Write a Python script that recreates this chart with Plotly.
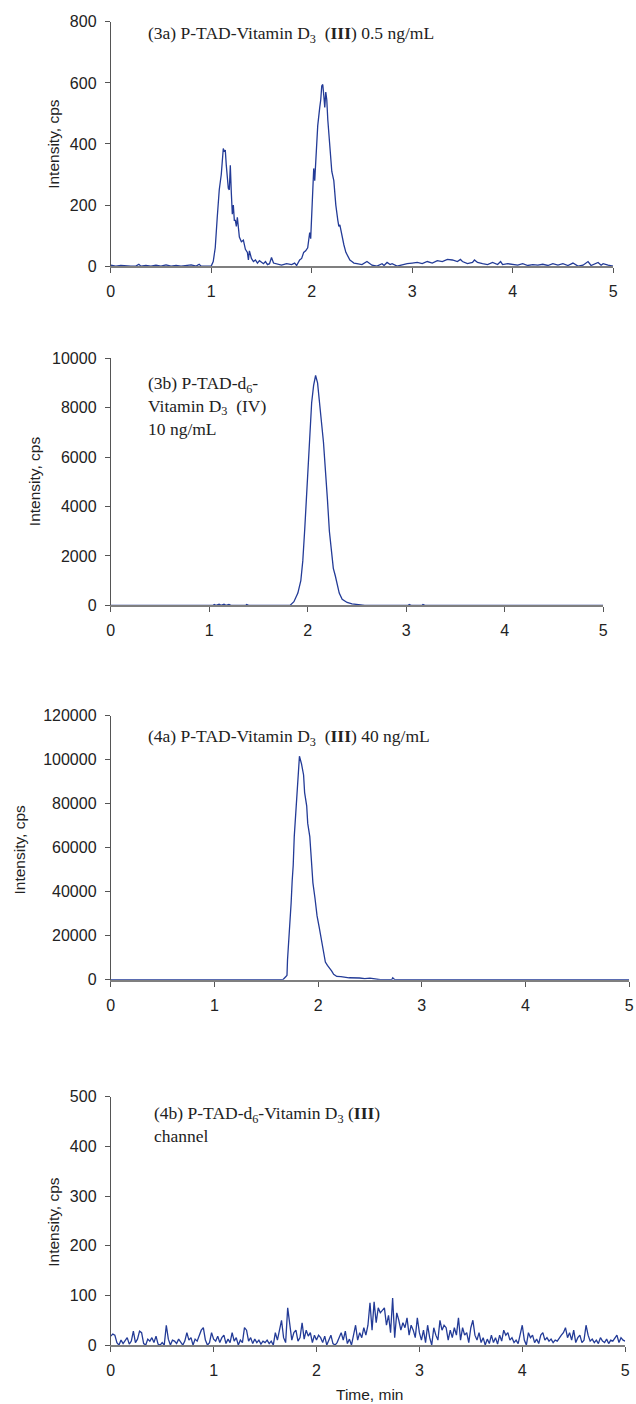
import plotly.graph_objects as go

# ---------------- data ----------------
# Panel 3a: P-TAD-Vitamin D3 (III) 0.5 ng/mL
t_3a = [0.00, 0.05, 0.10, 0.15, 0.20, 0.25, 0.28, 0.30, 0.35, 0.40, 0.45, 0.50, 0.55, 0.60, 0.65,
        0.70, 0.75, 0.80, 0.85, 0.88, 0.90, 0.95, 1.00, 1.02, 1.04, 1.06, 1.08, 1.10, 1.12, 1.13,
        1.14, 1.15, 1.16, 1.17, 1.18, 1.19, 1.20, 1.21, 1.22, 1.23, 1.24, 1.25, 1.26, 1.27, 1.28,
        1.30, 1.32, 1.34, 1.36, 1.37, 1.38, 1.40, 1.42, 1.44, 1.46, 1.48, 1.50, 1.52, 1.54, 1.56,
        1.58, 1.60, 1.62, 1.65, 1.70, 1.75, 1.80, 1.83, 1.85, 1.88, 1.90, 1.92, 1.94, 1.96, 1.98,
        1.99, 2.00, 2.02, 2.03, 2.04, 2.06, 2.08, 2.09, 2.10, 2.11, 2.12, 2.13, 2.14, 2.15, 2.16,
        2.18, 2.20, 2.22, 2.24, 2.26, 2.27, 2.28, 2.30, 2.32, 2.34, 2.36, 2.38, 2.40, 2.42, 2.45,
        2.50, 2.55, 2.58, 2.60, 2.65, 2.70, 2.72, 2.75, 2.78, 2.80, 2.85, 2.90, 2.95, 3.00, 3.05,
        3.10, 3.15, 3.20, 3.25, 3.30, 3.35, 3.40, 3.45, 3.48, 3.50, 3.55, 3.60, 3.62, 3.65, 3.70,
        3.75, 3.80, 3.85, 3.88, 3.90, 3.95, 4.00, 4.05, 4.10, 4.15, 4.20, 4.25, 4.30, 4.35, 4.40,
        4.45, 4.50, 4.55, 4.60, 4.65, 4.70, 4.75, 4.78, 4.80, 4.85, 4.88, 4.90, 4.95, 5.00]
v_3a = [3, 0, 2, 0, 0, 0, 6, 0, 2, 0, 3, 0, 4, 0, 2,
        0, 3, 4, 0, 6, 0, 0, 0, 15, 60, 160, 250, 300, 385, 375,
        380, 330, 300, 255, 250, 330, 240, 170, 200, 150, 150, 130, 160, 120, 95,
        80, 85, 55, 45, 20, 50, 25, 15, 20, 10, 18, 12, 8, 15, 5,
        8, 28, 10, 8, 3, 8, 5, 10, 2, 20, 25, 45, 50, 60, 110,
        90, 170, 320, 280, 330, 460, 520, 545, 590, 595, 560, 520, 570, 545, 480,
        400, 310, 280, 200, 150, 130, 135, 95, 70, 45, 30, 20, 15, 10, 8,
        5, 15, 8, 3, 0, 8, 2, 12, 5, 8, 0, 5, 8, 10, 12,
        8, 15, 10, 18, 15, 22, 20, 15, 22, 15, 8, 12, 20, 12, 8,
        5, 12, 5, 15, 5, 8, 5, 3, 8, 2, 5, 3, 6, 2, 8,
        3, 8, 2, 10, 0, 3, 15, 2, 5, 12, 3, 8, 3, 0]

# Panel 3b: P-TAD-d6-Vitamin D3 (IV) 10 ng/mL
t_3b = [0.00, 1.04, 1.05, 1.07, 1.10, 1.12, 1.15, 1.17, 1.20, 1.22, 1.37, 1.38, 1.40, 1.82, 1.86,
        1.90, 1.93, 1.95, 1.97, 1.99, 2.00, 2.02, 2.04, 2.06, 2.08, 2.10, 2.12, 2.14, 2.16, 2.18,
        2.20, 2.22, 2.24, 2.26, 2.28, 2.30, 2.32, 2.35, 2.40, 2.45, 2.50, 2.55, 2.58, 3.02, 3.03,
        3.05, 3.16, 3.17, 3.19, 5.00]
v_3b = [0, 0, 40, 0, 50, 0, 50, 0, 40, 0, 0, 40, 0, 0, 150,
        500, 1000, 1800, 3100, 4500, 5500, 7000, 8200, 8900, 9300, 9000, 8300, 7400, 6600, 5200,
        4300, 3000, 2200, 1500, 1200, 800, 500, 250, 120, 60, 40, 20, 0, 0, 40,
        0, 0, 40, 0, 0]

# Panel 4a: P-TAD-Vitamin D3 (III) 40 ng/mL
t_4a = [0.00, 1.66, 1.69, 1.70, 1.705, 1.72, 1.73, 1.74, 1.75, 1.76, 1.77, 1.78, 1.79, 1.80, 1.81,
        1.82, 1.84, 1.86, 1.87, 1.89, 1.90, 1.92, 1.93, 1.95, 1.97, 1.99, 2.01, 2.03, 2.05, 2.07,
        2.09, 2.11, 2.13, 2.15, 2.18, 2.22, 2.26, 2.30, 2.40, 2.45, 2.50, 2.55, 2.60, 2.71, 2.72,
        2.74, 5.00]
v_4a = [0, 0, 1500, 2000, 9000, 20000, 25000, 35000, 45000, 52000, 65000, 72000, 80000, 85000, 90000,
        101500, 98000, 93000, 85000, 79000, 71000, 65000, 58000, 44000, 37000, 29000, 24000, 19000, 14000, 8000,
        6500, 5500, 4000, 2500, 1500, 1400, 1000, 900, 800, 500, 700, 300, 0, 0, 900,
        0, 0]

# Panel 4b: P-TAD-d6-Vitamin D3 (III) channel, sampled every 0.02 min
dt_4b = 0.02
v_4b = [18, 22, 20, 5, 0, 10, 3, 8, 15, 2, 8, 28, 5, 12, 28, 25, 3, 0, 12, 8, 15, 5, 18, 2, 0,
        5, 0, 40, 12, 0, 10, 8, 3, 12, 5, 0, 8, 25, 10, 15, 0, 12, 8, 20, 30, 35, 10, 0, 5, 25,
        12, 8, 18, 5, 15, 20, 3, 12, 5, 25, 8, 15, 0, 10, 5, 35, 30, 8, 15, 3, 12, 5, 10, 2, 8,
        5, 10, 3, 8, 0, 25, 10, 30, 50, 15, 5, 75, 40, 10, 25, 30, 8, 15, 45, 12, 30, 18, 25, 5, 20,
        10, 20, 15, 5, 18, 0, 10, 20, 3, 0, 5, 15, 25, 10, 28, 3, 12, 0, 20, 40, 10, 25, 15, 35, 20,
        40, 85, 30, 87, 45, 75, 65, 70, 75, 40, 60, 25, 95, 15, 65, 50, 30, 45, 35, 55, 20, 40, 30, 15, 55,
        25, 10, 30, 5, 40, 15, 0, 35, 20, 10, 50, 30, 40, 35, 10, 30, 15, 35, 20, 55, 10, 35, 20, 25, 5,
        35, 50, 20, 10, 25, 5, 15, 0, 12, 3, 20, 5, 15, 2, 20, 8, 30, 20, 25, 10, 15, 5, 10, 3, 25,
        40, 10, 0, 25, 15, 20, 5, 12, 3, 20, 25, 10, 15, 8, 12, 5, 10, 8, 15, 20, 25, 35, 15, 25, 10,
        30, 5, 15, 20, 5, 10, 40, 20, 8, 12, 5, 10, 3, 15, 8, 5, 12, 3, 10, 8, 15, 20, 5, 15, 10,
        8]
t_4b = [round(i * dt_4b, 2) for i in range(len(v_4b))]

x_ticks = [0, 1, 2, 3, 4, 5]
y_ranges = [[0, 800], [0, 10000], [0, 120000], [0, 500]]
y_dticks = [200, 2000, 20000, 100]

titles = [
    "(3a) P-TAD-Vitamin D<sub>3</sub>  (<b>III</b>) 0.5 ng/mL",
    "(3b) P-TAD-d<sub>6</sub>-<br>Vitamin D<sub>3</sub>  (IV)<br>10 ng/mL",
    "(4a) P-TAD-Vitamin D<sub>3</sub>  (<b>III</b>) 40 ng/mL",
    "(4b) P-TAD-d<sub>6</sub>-Vitamin D<sub>3</sub> (<b>III</b>)<br>channel",
]
y_title = "Intensity, cps"
x_title = "Time, min"

# ---------------- layout geometry (pixels) ----------------
W, H = 636, 1404
S = 0.987  # layout spread factor about the page centre
# (left px, right px, top px, bottom px)
boxes = [(111, 614, 23, 267), (111, 604, 359, 606), (111, 630, 716, 980), (111, 626, 1097, 1345)]
ytitle_pos = [(54, 145), (34, 482), (20, 850), (54, 1222)]
ann_pos = [(146, 36, "middle"), (146, 372, "top"), (146, 738, "middle"), (152, 1101, "top")]

def px(x):
    return ((x - W / 2) / S + W / 2) / W

def py(y):
    return 1 - ((y - H / 2) / S + H / 2) / H

LINE = "#233b97"
fig = go.Figure()
series = [(t_3a, v_3a), (t_3b, v_3b), (t_4a, v_4a), (t_4b, v_4b)]
for i, (t, v) in enumerate(series):
    sfx = "" if i == 0 else str(i + 1)
    fig.add_trace(go.Scatter(x=t, y=v, mode="lines", line=dict(color=LINE, width=1.3),
                             xaxis="x" + sfx, yaxis="y" + sfx, showlegend=False))

tickfont = dict(family="Liberation Sans, Arial", size=16, color="#222")
layout = dict(width=W, height=H, margin=dict(l=0, r=0, t=0, b=0),
              paper_bgcolor="white", plot_bgcolor="white", showlegend=False)
for i, (l, r, t, b) in enumerate(boxes):
    sfx = "" if i == 0 else str(i + 1)
    layout["xaxis" + sfx] = dict(
        domain=[px(l), px(r)], range=[0, 5], anchor="y" + sfx,
        tickvals=x_ticks, showgrid=False, zeroline=False,
        showline=True, linecolor="#7f7f7f", linewidth=1.5,
        ticks="outside", ticklen=5, tickcolor="#555", tickfont=tickfont,
        ticklabelstandoff=5, ticklabeloverflow="allow")
    layout["yaxis" + sfx] = dict(
        domain=[py(b), py(t)], range=y_ranges[i], anchor="x" + sfx,
        dtick=y_dticks[i], tick0=0, tickformat="d", showgrid=False, zeroline=False,
        showline=True, linecolor="#555", linewidth=1,
        ticks="outside", ticklen=5, tickcolor="#555", tickfont=tickfont,
        ticklabelstandoff=5, ticklabeloverflow="allow")
fig.update_layout(**layout)

anns = []
for i in range(4):
    x0, y0 = ytitle_pos[i]
    anns.append(dict(text=y_title, x=px(x0), y=py(y0), xref="paper", yref="paper",
                     textangle=-90, showarrow=False, xanchor="center", yanchor="middle",
                     font=dict(family="Liberation Sans, Arial", size=15.5, color="#222")))
    ax, ay, anch = ann_pos[i]
    anns.append(dict(text=titles[i], x=px(ax), y=py(ay), xref="paper", yref="paper",
                     showarrow=False, xanchor="left", yanchor=anch, align="left",
                     font=dict(family="Liberation Serif, Times New Roman", size=17.5, color="#222")))
anns.append(dict(text=x_title, x=px(370), y=py(1394), xref="paper", yref="paper",
                 showarrow=False, xanchor="center", yanchor="middle",
                 font=dict(family="Liberation Sans, Arial", size=15.5, color="#222")))
fig.update_layout(annotations=anns)

page_fix = (
    "document.documentElement.style.margin='0';"
    "document.documentElement.style.overflow='hidden';"
    "document.body.style.margin='0';"
    "document.body.style.overflow='hidden';"
)
fig.write_html("out.html", config={"displayModeBar": False}, post_script=page_fix)
